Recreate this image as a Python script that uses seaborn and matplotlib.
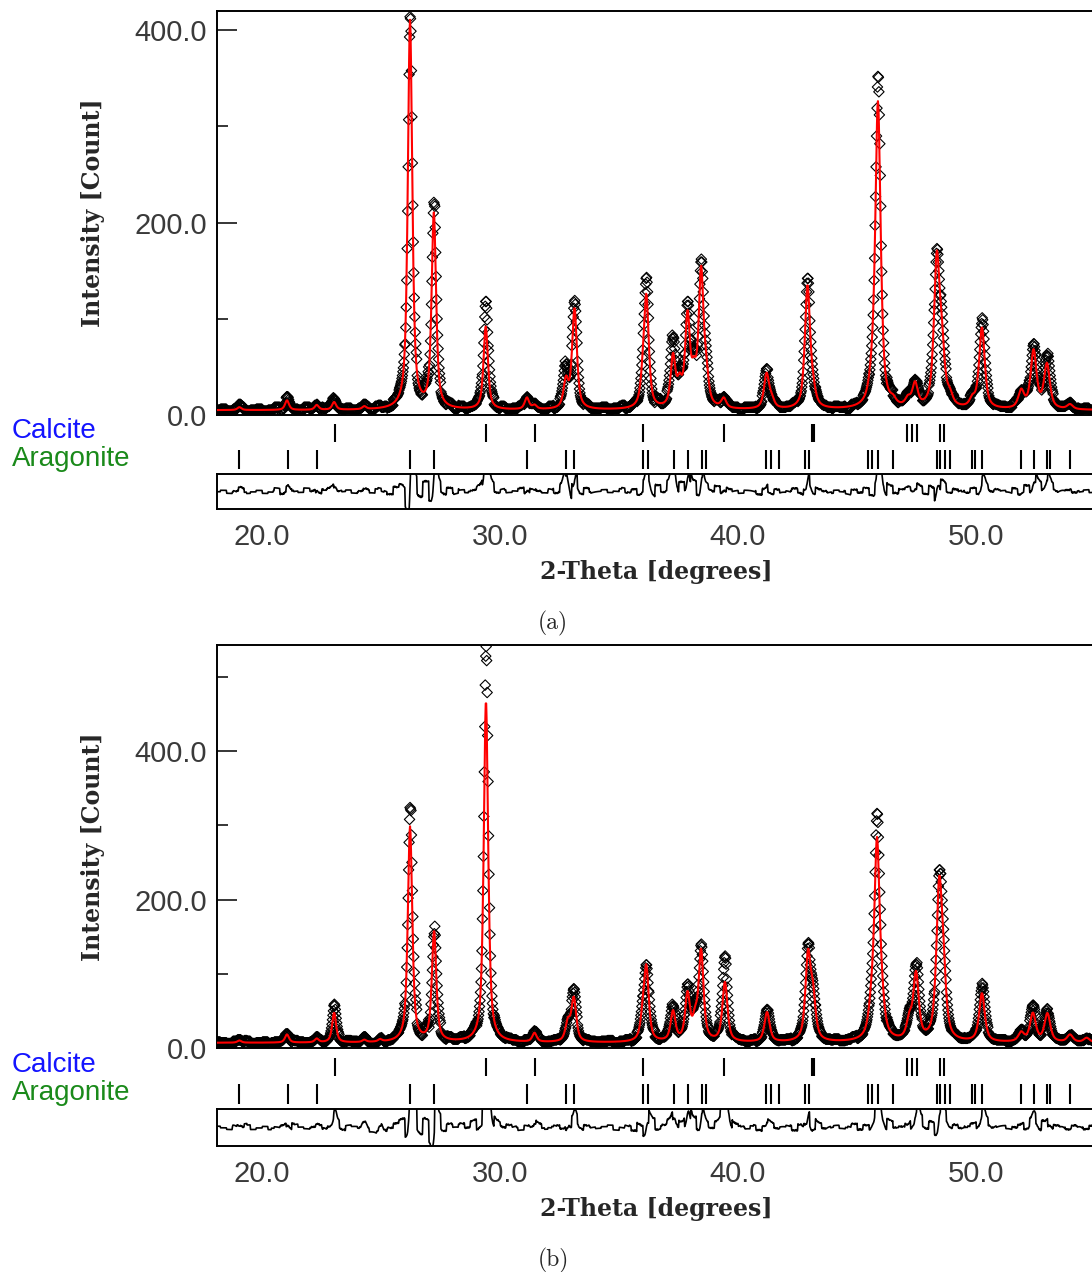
import numpy as np
import matplotlib
matplotlib.use("Agg")
import matplotlib.pyplot as plt
from matplotlib.ticker import FixedLocator
import seaborn as sns

# ---------------------------------------------------------------------------
# Scan range (degrees 2-theta) and counting step
# ---------------------------------------------------------------------------
SCAN_START, SCAN_STOP, SCAN_STEP = 18.0, 56.0, 0.02
RESID_START, RESID_STEP = 18.0, 0.25

# Reflection positions of the two phases (degrees 2-theta)
calcite_refl = [23.05, 29.41, 31.45, 36.00, 39.42, 43.10, 43.20, 47.12, 47.30,
                47.52, 48.50, 48.66]
aragonite_refl = [19.05, 21.10, 22.30, 26.23, 27.24, 31.13, 32.77, 33.13, 36.00,
                  36.20, 37.30, 37.90, 38.50, 38.66, 41.18, 41.40, 41.72, 42.80,
                  43.00, 45.47, 45.63, 45.88, 46.52, 48.36, 48.50, 48.70, 48.90,
                  49.83, 49.97, 50.25, 51.87, 52.44, 52.98, 53.10, 53.95]

# ---------------------------------------------------------------------------
# Sample (a): refined peaks - position, calculated height, observed height, FWHM
# ---------------------------------------------------------------------------
a_background = 5.0
a_peak_pos = [19.05, 21.05, 22.30, 23.03, 24.30, 26.22, 27.22, 29.40, 31.13, 31.45,
              32.77, 33.13, 36.00, 36.15, 37.27, 37.55, 37.88, 38.15, 38.45, 38.66,
              39.40, 41.20, 41.42, 42.92, 43.15, 45.60, 45.88, 46.52, 47.14, 47.44,
              48.35, 48.56, 48.90, 49.85, 50.25, 51.90, 52.42, 52.98, 53.95]
a_peak_calc = [3, 10, 5, 8, 3, 404, 202, 86, 12, 4,
               28, 104, 20, 112, 52, 22, 92, 28, 138, 28,
               10, 36, 8, 126, 14, 14, 318, 5, 8, 24,
               148, 55, 10, 8, 84, 18, 60, 46, 5]
a_peak_obs = [4, 13, 7, 12, 4, 415, 220, 116, 14, 4,
              45, 104, 22, 124, 72, 22, 104, 28, 148, 28,
              12, 38, 8, 131, 14, 14, 340, 5, 9, 26,
              155, 55, 10, 8, 92, 18, 68, 55, 5]
a_peak_fwhm = [0.20, 0.20, 0.20, 0.20, 0.20, 0.22, 0.22, 0.22, 0.22, 0.22,
               0.24, 0.24, 0.24, 0.24, 0.24, 0.24, 0.24, 0.24, 0.24, 0.24,
               0.25, 0.26, 0.26, 0.26, 0.26, 0.27, 0.27, 0.27, 0.27, 0.27,
               0.28, 0.28, 0.28, 0.28, 0.28, 0.29, 0.29, 0.29, 0.29]
# counting residuals in 0.25-degree bins starting at 18.0
a_resid = [0, 1, -1, 0, 2, -1, 0, 1,
           -1, 0, 2, -2, 1, 0, -1, 2,
           0, -2, 1, 2, -1, 0, 1, -1,
           0, 1, -1, 2, 0, -2, 3, 5,
           -6, 7, -5, 6, -7, 4, -3, 2,
           -2, 1, -1, 0, 2, -3, 4, -2,
           1, -1, 0, 2, -2, 1, 0, -1,
           1, -2, 3, -5, 6, -3, 2, -1,
           0, 1, -1, 0, 2, -1, 1, -3,
           4, -5, 3, -2, 5, -4, 3, -3,
           5, -4, 2, -1, 3, -2, 1, 0,
           -1, 1, 0, -2, 2, -3, 1, -1,
           0, 2, -1, 3, -4, 1, 0, -1,
           1, 0, -2, 1, -1, 2, -3, 5,
           -6, 3, -2, 1, 2, -1, 3, -2,
           4, -5, 3, -2, 1, 0, -1, 2,
           -3, 2, -1, 1, 0, -1, 2, -2,
           3, -3, 4, -2, 3, -1, 0, 1,
           -1, 0, 1, -1, 0, 1, 0]

# ---------------------------------------------------------------------------
# Sample (b)
# ---------------------------------------------------------------------------
b_background = 7.0
b_peak_pos = [19.05, 21.05, 22.30, 23.03, 24.30, 24.96, 26.22, 27.23, 29.41, 31.45,
              32.85, 33.10, 36.00, 36.15, 37.27, 37.88, 38.20, 38.45, 39.45, 41.22,
              42.94, 43.15, 45.60, 45.84, 46.05, 47.20, 47.48, 48.45, 48.62, 50.25,
              51.90, 52.39, 53.00, 53.95, 54.65]
b_peak_calc = [3, 11, 5, 40, 3, 3, 290, 148, 460, 12,
               25, 58, 25, 95, 40, 62, 25, 120, 80, 40,
               112, 55, 30, 262, 30, 25, 88, 192, 75, 65,
               12, 38, 38, 10, 6]
b_peak_obs = [4, 14, 6, 48, 9, 9, 325, 152, 525, 14,
              28, 64, 25, 98, 48, 75, 25, 128, 108, 42,
              116, 55, 30, 290, 30, 25, 100, 205, 75, 75,
              12, 45, 40, 10, 6]
b_peak_fwhm = [0.20, 0.20, 0.20, 0.20, 0.20, 0.20, 0.22, 0.22, 0.22, 0.22,
               0.24, 0.24, 0.24, 0.24, 0.24, 0.24, 0.24, 0.24, 0.25, 0.26,
               0.26, 0.26, 0.27, 0.27, 0.27, 0.27, 0.27, 0.28, 0.28, 0.28,
               0.29, 0.29, 0.29, 0.29, 0.29]
b_resid = [1, 0, -1, 1, 0, 2, -1, 0,
           1, -1, 0, 1, -2, 2, 0, -1,
           0, 1, -1, 0, 3, -2, 1, 0,
           -1, -2, -4, -5, -3, -1, 2, 4,
           -8, 9, -6, 5, -9, 7, -3, 2,
           0, 2, -1, 3, -4, 8, -6, 2,
           -1, 1, 0, -2, 1, 0, 2, -1,
           0, 1, -1, -3, 4, -2, 1, 0,
           -1, 0, 1, -2, 0, 1, -2, 3,
           -4, 5, -2, 1, 4, -3, 2, -4,
           5, -3, 1, -2, 2, 6, -4, 1,
           0, -1, 1, -2, 1, 2, -1, 0,
           1, -2, 2, 4, -5, 2, -1, 0,
           1, -1, 0, 2, -2, 1, -2, 4,
           -5, 3, -1, 0, 2, -3, 4, -2,
           3, -5, 4, -2, 1, -1, 0, 2,
           -2, 3, -1, 0, 1, -1, 0, 2,
           -2, 3, -3, 4, -2, 1, 0, -1,
           1, 0, -1, 1, 0, -1, 0]

ETA = 0.7          # Lorentzian fraction of the pseudo-Voigt profile
OBS_SHIFT = 0.008  # small zero shift left in the refinement


def pseudo_voigt(x, pos, fwhm):
    hw = fwhm / 2.0
    lor = 1.0 / (1.0 + ((x - pos) / hw) ** 2)
    gau = np.exp(-np.log(2.0) * ((x - pos) / hw) ** 2)
    return ETA * lor + (1.0 - ETA) * gau


def profile(x, bg, pos, heights, fwhm, shift=0.0):
    y = np.full_like(x, bg)
    for p, h, w in zip(pos, heights, fwhm):
        y += h * pseudo_voigt(x, p + shift, w)
    return y


two_theta = np.arange(SCAN_START, SCAN_STOP, SCAN_STEP)
bin_idx = np.clip(((two_theta - RESID_START) / RESID_STEP).astype(int), 0, len(a_resid) - 1)

calc_a = profile(two_theta, a_background, a_peak_pos, a_peak_calc, a_peak_fwhm)
obs_a = np.round(profile(two_theta, a_background, a_peak_pos, a_peak_obs, a_peak_fwhm,
                         OBS_SHIFT) + np.asarray(a_resid, float)[bin_idx])
calc_b = profile(two_theta, b_background, b_peak_pos, b_peak_calc, b_peak_fwhm)
obs_b = np.round(profile(two_theta, b_background, b_peak_pos, b_peak_obs, b_peak_fwhm,
                         OBS_SHIFT) + np.asarray(b_resid, float)[bin_idx])

# ---------------------------------------------------------------------------
# Figure layout (pixel based)
# ---------------------------------------------------------------------------
W, H = 1092, 1272
sns.set_theme(style="white")
plt.rcParams["font.family"] = ["Liberation Sans", "DejaVu Sans"]

fig = plt.figure(figsize=(W / 100, H / 100), dpi=100)

PX_PER_DEG = 23.8
LEFT_PX = 217
X0 = 20.0 - (262 - LEFT_PX) / PX_PER_DEG
X1 = 57.0
RIGHT_PX = LEFT_PX + (X1 - X0) * PX_PER_DEG


def px_box(top, bottom):
    return [LEFT_PX / W, 1 - bottom / H, (RIGHT_PX - LEFT_PX) / W, (bottom - top) / H]


TICK_COLOR = "#3a3a3a"
SPINE_LW = 1.4
SERIF_BOLD = dict(family="DejaVu Serif", weight="bold", size=17)


def draw_panel(obs, calc, layout, ylim, major, minor, tag):
    main_top, main_bot, tick_top, tick_bot, diff_top, diff_bot = layout

    # observed points and calculated profile
    ax = fig.add_axes(px_box(main_top, main_bot))
    sns.scatterplot(x=two_theta, y=obs, ax=ax, marker="D", s=28, color="black",
                    facecolor="none", edgecolor="black", linewidth=0.8, legend=False,
                    zorder=2)
    sns.lineplot(x=two_theta, y=calc, ax=ax, color="#ff0000", lw=1.5,
                 estimator=None, errorbar=None, zorder=3)
    ax.set_xlim(X0, X1)
    ax.set_ylim(*ylim)
    ax.set_xticks([])
    ax.yaxis.set_major_locator(FixedLocator(major))
    ax.yaxis.set_minor_locator(FixedLocator(minor))
    ax.set_yticklabels([f"{v:.1f}" for v in major])
    ax.tick_params(axis="y", which="major", direction="in", length=14.4, width=1.1,
                   pad=7, labelsize=21, labelcolor=TICK_COLOR, color="black", left=True)
    ax.tick_params(axis="y", which="minor", direction="in", length=8, width=1.1,
                   color="black", left=True)
    ax.set_xlabel("")
    ax.set_ylabel("")
    for side in ("left", "top", "bottom", "right"):
        ax.spines[side].set_linewidth(SPINE_LW)
        ax.spines[side].set_color("black")

    # phase reflection markers
    axt = fig.add_axes(px_box(tick_top, tick_bot))
    h = tick_bot - tick_top
    axt.vlines(calcite_refl, 6, 24, color="black", lw=1.5)
    axt.vlines(aragonite_refl, 32, h - 3, color="black", lw=1.5)
    axt.set_xlim(X0, X1)
    axt.set_ylim(h, 0)
    axt.set_axis_off()

    # difference curve
    axd = fig.add_axes(px_box(diff_top, diff_bot))
    sns.lineplot(x=two_theta, y=obs - calc, ax=axd, color="black", lw=1.2,
                 estimator=None, errorbar=None)
    axd.set_xlim(X0, X1)
    axd.set_ylim(-12, 12)
    axd.set_yticks([])
    axd.set_xticks([20, 30, 40, 50])
    axd.set_xticklabels(["20.0", "30.0", "40.0", "50.0"])
    axd.tick_params(axis="x", length=0, pad=10, labelsize=21, labelcolor=TICK_COLOR)
    axd.set_xlabel("")
    axd.set_ylabel("")
    for side in ("left", "top", "bottom", "right"):
        axd.spines[side].set_linewidth(SPINE_LW)
        axd.spines[side].set_color("black")

    # texts
    yl_center = (main_top + main_bot) / 2
    fig.text(93 / W, 1 - yl_center / H, "Intensity [Count]", rotation=90,
             ha="center", va="center", **SERIF_BOLD)
    fig.text(656 / W, 1 - (diff_bot + 63) / H, "2-Theta [degrees]",
             ha="center", va="center", **SERIF_BOLD)
    fig.text(553 / W, 1 - (diff_bot + 114) / H, tag, ha="center", va="center",
             family="cmr10", size=17)
    fig.text(12 / W, 1 - (tick_top + 13) / H, "Calcite", ha="left", va="center",
             color="#1414ff", size=20)
    fig.text(12 / W, 1 - (tick_top + 41) / H, "Aragonite", ha="left", va="center",
             color="#1a8a1a", size=20)


draw_panel(obs_a, calc_a, (11, 415, 418, 472, 474, 509), (0, 420),
           [0, 200, 400], [100, 300], "(a)")
draw_panel(obs_b, calc_b, (645, 1048, 1052, 1107, 1109, 1146), (0, 543),
           [0, 200, 400], [100, 300, 500], "(b)")

fig.savefig("out.png", dpi=100)
